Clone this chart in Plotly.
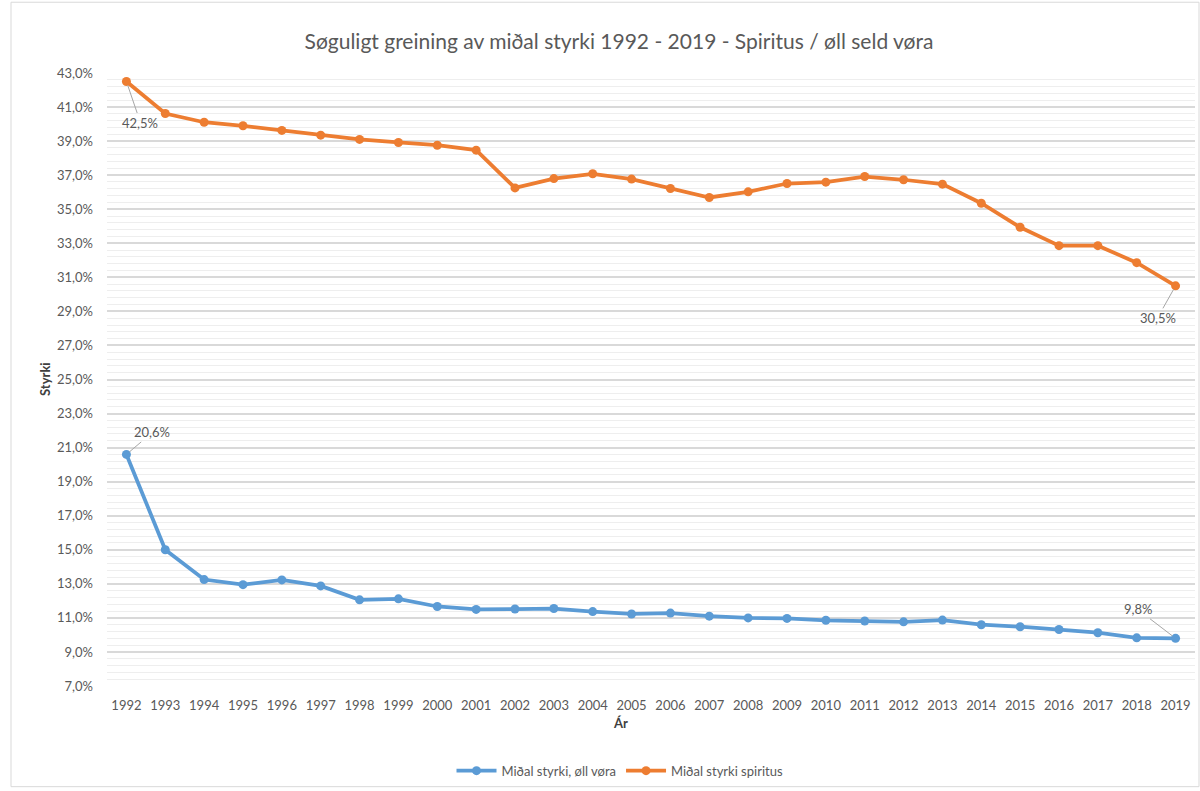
import plotly.graph_objects as go

years = [str(y) for y in range(1992, 2020)]
midal_oll = [20.6, 15.0, 13.25, 12.95, 13.23, 12.88, 12.06, 12.12, 11.67, 11.5, 11.52, 11.55,
             11.37, 11.23, 11.28, 11.1, 11.0, 10.97, 10.86, 10.82, 10.77, 10.87, 10.6, 10.48,
             10.32, 10.13, 9.83, 9.8]
midal_spiritus = [42.5, 40.62, 40.11, 39.9, 39.63, 39.35, 39.1, 38.92, 38.76, 38.47, 36.25, 36.8,
                  37.08, 36.77, 36.22, 35.69, 36.02, 36.51, 36.59, 36.92, 36.73, 36.47, 35.35,
                  33.94, 32.86, 32.86, 31.86, 30.5]

names = ["Miðal styrki, øll vøra", "Miðal styrki spiritus"]
colors = ["#5B9BD5", "#ED7D31"]

W, H = 1200, 791
L, R, T, B = 107, 5, 73, 103
PW, PH = W - L - R, H - T - B

def px(x):
    return (x - L) / PW

def py(y):
    return (H - B - y) / PH

fig = go.Figure()
for vals, name, col in [(midal_oll, names[0], colors[0]), (midal_spiritus, names[1], colors[1])]:
    fig.add_trace(go.Scatter(
        x=years, y=[v / 100 for v in vals], name=name, mode="lines+markers",
        line=dict(color=col, width=3.75), marker=dict(color=col, size=9),
        hoverinfo="x+y"))

font = "Lato, 'Open Sans', sans-serif"
grey = "#595959"

fig.update_layout(
    width=W, height=H,
    margin=dict(l=L, r=R, t=T, b=B),
    paper_bgcolor="white", plot_bgcolor="white",
    separators=",.",
    font=dict(family=font, color=grey, size=13),
    title=dict(text="Søguligt greining av miðal styrki 1992 - 2019 - Spiritus / øll seld vøra",
               xref="paper", x=px(619), xanchor="center", y=1 - 42 / H, yanchor="middle",
               font=dict(size=21, color=grey, family=font)),
    showlegend=True,
    legend=dict(orientation="h", x=px(620), xanchor="center", y=py(773), yanchor="middle",
                font=dict(size=13, color=grey), itemwidth=40, tracegroupgap=0),
    xaxis=dict(type="category", range=[-0.5, len(years) - 0.5], showgrid=False,
               showline=False, ticks="", tickfont=dict(size=13, color=grey),
               ticklabelstandoff=10, zeroline=False),
    yaxis=dict(range=[0.07, 0.43], dtick=0.02, tick0=0.07, tickformat=".1%",
               showgrid=True, gridcolor="#d9d9d9", gridwidth=2,
               minor=dict(dtick=0.004, tick0=0.07, showgrid=True, gridcolor="#eeeeee", gridwidth=1),
               showline=False, zeroline=False, ticks="", ticklabelstandoff=13,
               tickfont=dict(size=13, color=grey)),
)

fig.add_annotation(text="<b>Styrki</b>", xref="paper", yref="paper", x=px(45), y=py(380),
                   xanchor="center", yanchor="middle",
                   textangle=-90, showarrow=False, font=dict(size=13, color="#404040"))
fig.add_annotation(text="<b>Ár</b>", xref="paper", yref="paper", x=px(620), y=py(725),
                   xanchor="center", yanchor="middle",
                   showarrow=False, font=dict(size=13, color="#404040"))

lab = dict(showarrow=True, arrowhead=0, arrowwidth=1, arrowcolor="#a6a6a6",
           font=dict(size=13, color=grey), standoff=4, xref="x", yref="y")
last = len(years) - 1
fig.add_annotation(x=0, y=midal_spiritus[0] / 100, text="42,5%", ax=14, ay=41, **lab)
fig.add_annotation(x=last, y=midal_spiritus[last] / 100, text="30,5%", ax=-18, ay=32, **lab)
fig.add_annotation(x=0, y=midal_oll[0] / 100, text="20,6%", ax=26, ay=-22, **lab)
fig.add_annotation(x=last, y=midal_oll[last] / 100, text="9,8%", ax=-38, ay=-29, **lab)

fig.add_shape(type="rect", xref="paper", yref="paper",
              x0=px(11), x1=px(1199), y0=py(789), y1=py(2),
              line=dict(color="#d9d9d9", width=1), layer="below")

fig.write_html("out.html", config={"displayModeBar": False},
               post_script="document.body.style.margin='0';document.body.style.overflow='hidden';")
